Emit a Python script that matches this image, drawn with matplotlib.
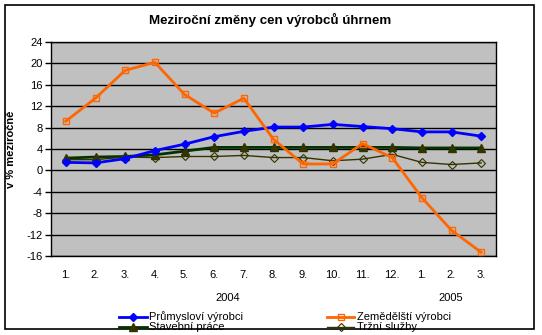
import numpy as np
import matplotlib.pyplot as plt
from matplotlib.patches import Rectangle

plt.rcParams['font.family'] = ['Liberation Sans', 'DejaVu Sans']

months = ["1.", "2.", "3.", "4.", "5.", "6.", "7.", "8.", "9.", "10.", "11.", "12.", "1.", "2.", "3."]

prumysl = [1.5, 1.4, 2.2, 3.7, 4.9, 6.3, 7.3, 8.1, 8.1, 8.6, 8.2, 7.8, 7.2, 7.2, 6.4]
zemedel = [9.2, 13.5, 18.7, 20.2, 14.2, 10.7, 13.5, 5.8, 1.2, 1.2, 5.0, 2.4, -5.1, -11.2, -15.3]
stavebni = [2.3, 2.5, 2.6, 2.9, 3.6, 4.3, 4.3, 4.3, 4.3, 4.3, 4.3, 4.3, 4.2, 4.2, 4.2]
trzni = [2.0, 2.0, 2.5, 2.4, 2.6, 2.6, 2.8, 2.4, 2.4, 1.8, 2.1, 3.0, 1.5, 1.1, 1.4]

years = ["2004", "2005"]
yticks = np.arange(-16, 25, 4)

fig = plt.figure(figsize=(5.42, 3.35), dpi=100)
W, H = 542, 335
ax = fig.add_axes([51 / W, 1 - 256 / H, 445 / W, 214 / H])
ax.set_facecolor('#C0C0C0')

x = np.arange(len(months))
l1, = ax.plot(x, prumysl, color='#0000FF', lw=2, marker='D', ms=4, label='Průmysloví výrobci', zorder=4)
l2, = ax.plot(x, zemedel, color='#FF6600', lw=2, marker='s', ms=5, mfc='none', mew=1,
              label='Zemědělští výrobci', zorder=5)
l3, = ax.plot(x, stavebni, color='#003300', lw=2, marker='^', ms=6, mfc='#333300', mec='#333300',
              label='Stavební práce', zorder=3)
l4, = ax.plot(x, trzni, color='#333300', lw=1, marker='D', ms=4, mfc='none', mec='#333300', mew=0.8,
              label='Tržní služby', zorder=3)

ax.set_xlim(-0.5, len(months) - 0.5)
ax.set_ylim(-16, 24)
ax.set_yticks(yticks)
ax.set_yticklabels([str(v) for v in yticks], fontsize=8)
ax.set_xticks(x)
ax.set_xticklabels(months, fontsize=8)
ax.tick_params(axis='x', length=0, pad=10)
ax.tick_params(axis='y', length=4, width=1, pad=2)
ax.grid(axis='y', color='black', lw=1)
ax.set_axisbelow(True)
for s in ax.spines.values():
    s.set_color('black')
    s.set_linewidth(1)

ax.set_ylabel('v % meziročně', fontsize=8, fontweight='bold')
ax.yaxis.set_label_coords((16 - 51) / 445, 0.5)

fig.text(270 / W, 1 - 20 / H, 'Meziroční změny cen výrobců úhrnem', ha='center', va='center',
         fontsize=9.6, fontweight='bold')
fig.text(228 / W, 1 - 298 / H, years[0], ha='center', va='center', fontsize=8)
fig.text(451 / W, 1 - 298 / H, years[1], ha='center', va='center', fontsize=8)

fig.legend(handles=[l1, l3, l2, l4], loc='center', bbox_to_anchor=(285 / W, 1 - 322 / H), ncol=2,
           frameon=False, fontsize=8, handlelength=2.5, handletextpad=0.2, columnspacing=7.5,
           labelspacing=0.0, borderpad=0)

fig.patches.append(Rectangle((5 / W, 1 - 329 / H), 529 / W, 324 / H, transform=fig.transFigure,
                             fill=False, edgecolor='black', lw=1.2))

fig.savefig('out.png', dpi=100)
